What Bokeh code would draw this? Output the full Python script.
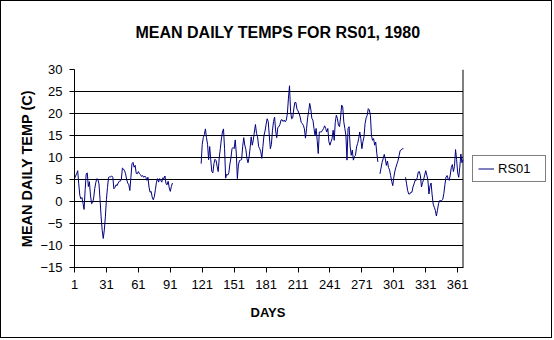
import numpy as np
from bokeh.plotting import figure
from bokeh.models import (Range1d, FixedTicker, Legend, LegendItem,
                          LinearAxis, Title, ColumnDataSource)
from bokeh.embed import file_html
from bokeh.resources import INLINE

# ---------------- data ----------------
title_text = "MEAN DAILY TEMPS FOR RS01, 1980"
x_label = "DAYS"
y_label = "MEAN DAILY TEMP (C)"
series_name = "RS01"
n_days = 366
x_ticks = [1, 31, 61, 91, 121, 151, 181, 211, 241, 271, 301, 331, 361]
y_ticks = [-15, -10, -5, 0, 5, 10, 15, 20, 25, 30]

# days 1-93
seg1_start = 1
seg1 = [5.2, 5.8, 6.3, 7.0, 4.0, 1.4, 0.6, 0.9, -0.4, -1.8,
        2.7, 6.3, 6.5, 3.4, 4.5, 1.5, -0.5, -0.3, 0.8, 2.9,
        4.3, 5.2, 5.0, 4.0, 0.5, -3.5, -6.5, -8.4, -6.5, -3.5,
        0.5, 3.2, 5.5, 5.6, 5.6, 5.8, 5.5, 2.9, 3.2, 3.8,
        3.6, 4.2, 4.6, 4.6, 5.0, 7.6, 7.4, 7.0, 6.3, 5.0,
        4.2, 3.8, 2.5, 5.5, 8.6, 8.9, 7.8, 8.2, 6.4, 6.3,
        6.8, 6.3, 6.1, 5.7, 5.9, 5.5, 5.8, 5.5, 4.8, 5.5,
        3.3, 2.1, 2.3, 1.0, 0.4, 1.1, 2.7, 4.4, 5.2, 4.4,
        5.2, 4.8, 4.4, 5.4, 5.2, 5.8, 4.0, 3.8, 4.6, 3.1,
        2.3, 3.4, 4.2]

# days 120-286
seg2_start = 120
seg2 = [8.6, 13.0, 14.5, 15.2, 16.5, 14.5, 13.0, 9.5, 12.5, 9.5,
        6.8, 6.5, 8.6, 9.6, 9.3, 8.0, 6.8, 10.0, 12.0, 14.2,
        15.8, 16.5, 12.0, 5.3, 6.2, 6.0, 6.5, 8.5, 10.0, 12.0,
        12.3, 12.0, 14.0, 11.0, 5.2, 8.3, 9.3, 9.4, 9.5, 12.5,
        14.5, 12.8, 11.8, 9.8, 8.8, 10.0, 12.2, 14.7, 12.8, 14.0,
        15.8, 17.5, 15.5, 14.7, 12.5, 12.0, 11.3, 9.8, 12.5, 15.0,
        16.0, 17.5, 18.8, 18.2, 15.0, 12.0, 13.0, 16.2, 18.2, 19.2,
        16.0, 14.5, 16.8, 17.0, 17.5, 18.5, 18.6, 18.2, 18.5, 18.1,
        18.5, 20.0, 23.5, 26.3, 20.5, 18.8, 19.0, 21.0, 22.5, 22.5,
        21.0, 20.6, 20.0, 19.2, 18.0, 17.7, 17.3, 16.5, 14.4, 16.5,
        19.0, 20.5, 22.3, 21.0, 18.9, 18.5, 16.6, 15.0, 16.6, 13.9,
        10.9, 15.8, 15.8, 15.8, 16.2, 16.6, 17.2, 16.6, 15.8, 16.6,
        13.6, 12.8, 13.6, 14.3, 16.2, 13.9, 18.0, 19.6, 18.9, 17.3,
        17.0, 19.2, 21.9, 21.5, 18.1, 16.6, 15.0, 9.4, 16.6, 17.0,
        12.4, 10.5, 11.7, 9.4, 10.2, 10.5, 12.4, 13.2, 14.3, 15.8,
        14.3, 12.0, 13.6, 14.7, 17.7, 19.0, 19.6, 21.1, 20.8, 19.6,
        15.0, 13.9, 14.3, 12.8, 13.5, 11.0, 9.0]

# days 288-310
seg3_start = 288
seg3 = [6.3, 7.6, 8.9, 9.7, 10.7, 9.7, 8.2, 9.2, 7.7, 7.2,
        5.9, 4.6, 3.6, 5.5, 6.9, 7.8, 8.6, 9.3, 10.5, 11.6,
        11.7, 12.0, 12.0]

# days 312-366
seg4_start = 312
seg4 = [5.5, 4.0, 2.5, 1.7, 1.7, 2.1, 2.1, 3.3, 4.0, 4.8,
        4.8, 5.4, 6.7, 6.8, 5.8, 3.3, 4.3, 5.0, 6.0, 7.0,
        6.0, 4.9, 1.7, 3.5, 4.2, 1.5, -0.6, -1.3, -2.0, -3.3,
        -2.0, -0.5, 0.2, 0.2, 0.2, 0.5, 1.8, 3.8, 5.5, 5.9,
        5.2, 4.8, 6.0, 7.7, 8.4, 6.8, 8.0, 11.8, 9.5, 6.5,
        5.5, 7.8, 10.8, 8.8, 9.5]

days = np.arange(1, n_days + 1)
temps = np.full(n_days, np.nan)
for start, seg in [(seg1_start, seg1), (seg2_start, seg2),
                   (seg3_start, seg3), (seg4_start, seg4)]:
    temps[start - 1:start - 1 + len(seg)] = seg

source = ColumnDataSource(data=dict(day=days, temp=temps))

# ---------------- layout (pixels) ----------------
FONT = "Liberation Sans"
CANVAS_W, CANVAS_H = 552, 338          # + 1px outer border each side
BORDER_L, BORDER_T, BORDER_B = 73, 68, 72
PLOT_W = 388.5                          # width of the day 1..366 plot area
FRAME_W = CANVAS_W - BORDER_L           # frame runs to the right edge
px_per_day = PLOT_W / (n_days - 1)
x_end = 1 + FRAME_W / px_per_day

p = figure(width=CANVAS_W, height=CANVAS_H, output_backend="svg",
           toolbar_location=None,
           x_range=Range1d(1, x_end), y_range=Range1d(-15, 30),
           min_border_left=BORDER_L, min_border_right=0,
           min_border_top=BORDER_T, min_border_bottom=BORDER_B,
           background_fill_color="white", border_fill_color="white",
           title=None)
p.styles = {"border": "1px solid black"}
p.outline_line_color = None

# horizontal gridlines
p.xgrid.visible = False
p.ygrid.ticker = FixedTicker(ticks=y_ticks)
p.ygrid.grid_line_color = "black"
p.ygrid.grid_line_alpha = 1
p.ygrid.grid_line_width = 1

# axes
for ax in (p.xaxis[0], p.yaxis[0]):
    ax.axis_line_color = "black"
    ax.major_tick_line_color = "black"
    ax.major_tick_in = 0
    ax.major_tick_out = 5
    ax.minor_tick_line_color = None
    ax.major_label_text_font = FONT
    ax.major_label_text_font_size = "13px"
    ax.major_label_text_color = "black"
    ax.axis_label_text_font = FONT
    ax.axis_label_text_font_size = "13px"
    ax.axis_label_text_font_style = "bold"
    ax.axis_label_text_color = "black"

p.xaxis.bounds = (1, n_days)
p.xaxis.ticker = FixedTicker(ticks=x_ticks)
p.yaxis.ticker = FixedTicker(ticks=y_ticks)
p.yaxis.axis_label = y_label
p.yaxis.axis_label_text_font_size = "14.5px"
p.xaxis.major_label_standoff = 7
p.yaxis.major_label_standoff = 7
p.yaxis.axis_label_standoff = 2

# invisible top axis used only as a vertical spacer above the plot area
spacer_axis = LinearAxis(ticker=FixedTicker(ticks=x_ticks[:1]),
                         axis_line_color=None,
                         major_tick_line_color="white", major_tick_in=0,
                         major_tick_out=16, minor_tick_line_color=None,
                         major_label_standoff=0,
                         major_label_overrides={x_ticks[0]: ""},
                         major_label_text_font_size="1px")
p.add_layout(spacer_axis, "above")

# chart title (centred on the whole chart) and x-axis title (centred on plot)
p.add_layout(Title(text=title_text, align="left", offset=61, standoff=24,
                   vertical_align="middle",
                   text_font=FONT, text_font_size="16px",
                   text_font_style="bold", text_color="black"), "above")
p.add_layout(Title(text=x_label, align="left", offset=176, standoff=25,
                   vertical_align="middle",
                   text_font=FONT, text_font_size="13px",
                   text_font_style="bold", text_color="black"), "below")

# blank the area right of the plot area (legend region), then the right border
p.quad(left=[n_days], right=[x_end], bottom=[-20], top=[35],
       fill_color="white", line_color=None)
p.segment(x0=[n_days], y0=[y_ticks[0]], x1=[n_days], y1=[y_ticks[-1]],
          line_color="black", line_width=1)

r = p.line("day", "temp", source=source, line_color="#000080", line_width=1)

legend = Legend(items=[LegendItem(label=series_name, renderers=[r])],
                location=(398, 85), orientation="vertical",
                padding=5, margin=0, spacing=0,
                glyph_width=16, glyph_height=15,
                label_standoff=4, label_width=42, label_height=15,
                label_text_font=FONT, label_text_font_size="13px",
                label_text_color="black",
                border_line_color="black", border_line_width=1,
                background_fill_color="white", background_fill_alpha=1)
p.add_layout(legend)

open("out.html", "w").write(file_html(p, INLINE))
